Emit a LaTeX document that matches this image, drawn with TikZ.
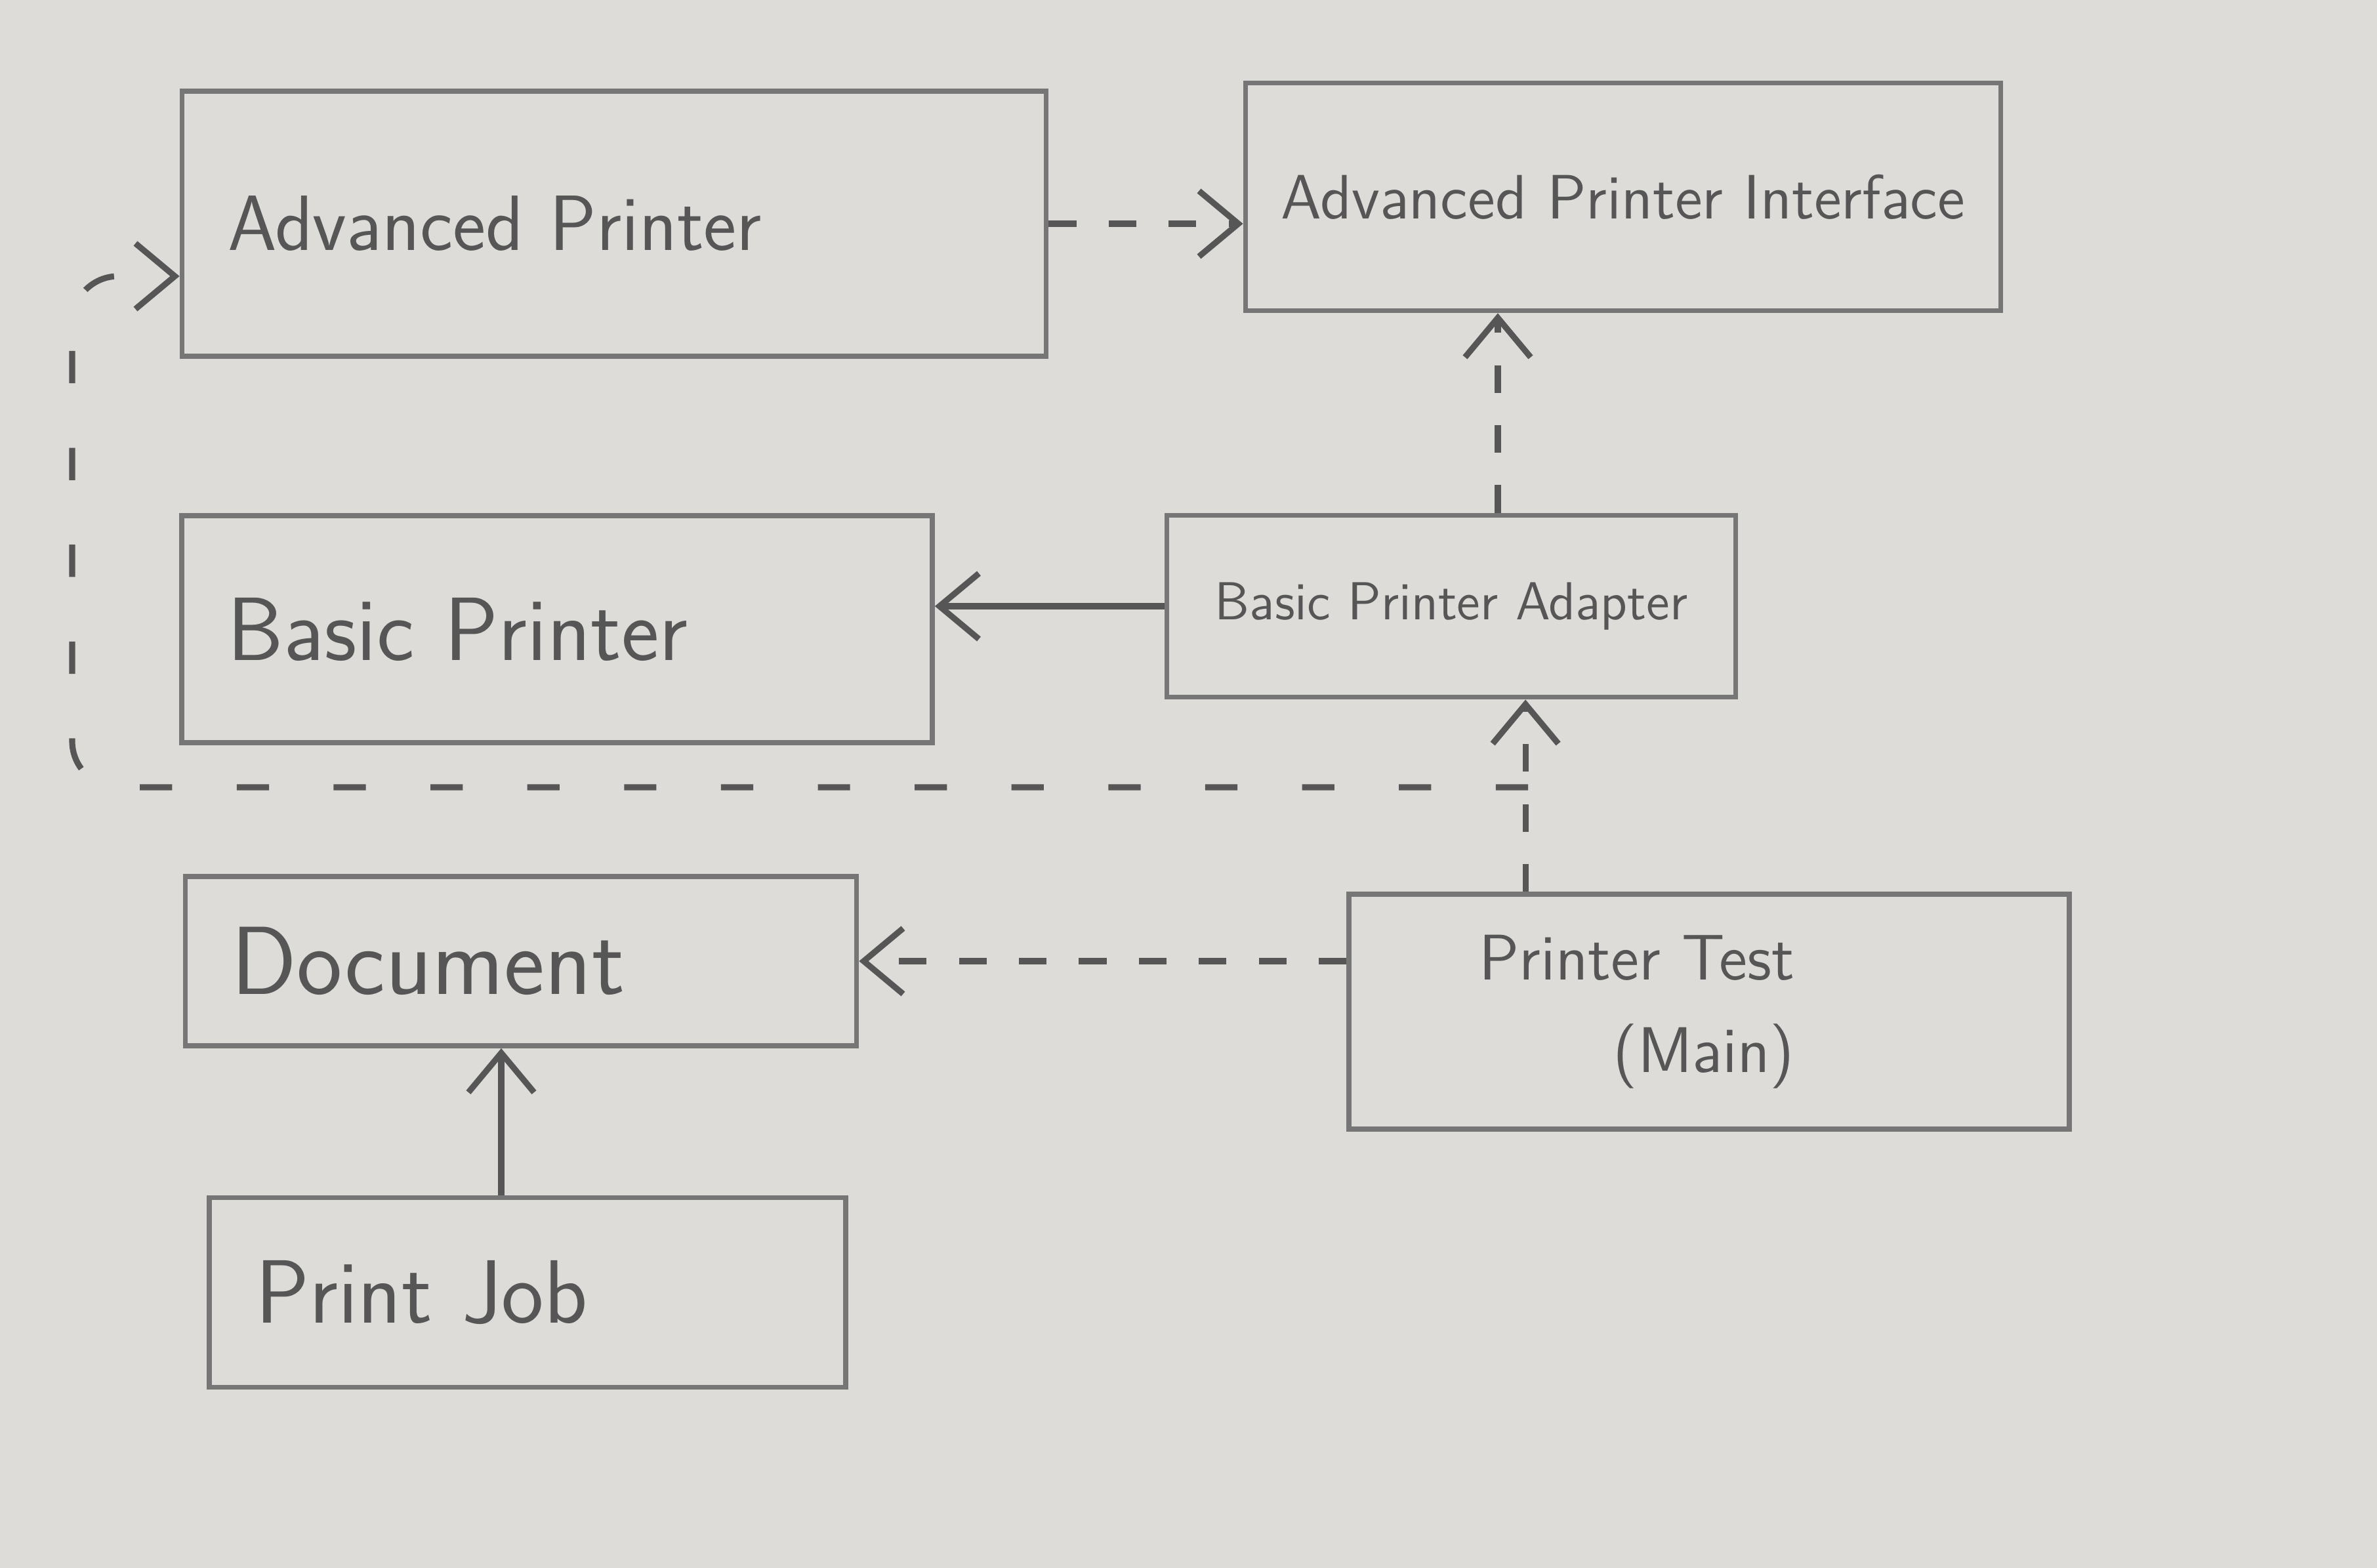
\documentclass[tikz,border=0pt]{standalone}
\usepackage{tikz}
\usepackage{xcolor}
\usetikzlibrary{positioning}
\usetikzlibrary{calc}
\usetikzlibrary{arrows.meta}
\definecolor{paper}{RGB}{222,220,216}
\definecolor{pencil}{RGB}{118,118,118}
\definecolor{lead}{RGB}{86,86,86}
\tikzset{classBox/.style={draw=pencil, line width=1.1pt, text=lead, inner xsep=0.35cm, inner ysep=0pt, font=\sffamily\fontsize{17}{20}\selectfont}}
\tikzset{classBoxSmall/.style={classBox, inner xsep=0.1cm, font=\sffamily\fontsize{12}{15}\selectfont}}
\tikzset{depLine/.style={draw=lead, line width=1.3pt, dash pattern=on 6pt off 7pt}}
\tikzset{useLine/.style={draw=lead, line width=1.3pt}}
\tikzset{>={Straight Barb[length=3mm, width=5mm]}}

\begin{document}
\begin{tikzpicture}

\fill[paper] (0, 0) rectangle (18.115, -11.95);

\node[classBox, minimum width=6.585cm, minimum height=2.02cm, text width=5.885cm, align=left] (aprinter) at (4.68, -1.705) {Advanced Printer};
\node[classBoxSmall, font=\sffamily\fontsize{13.6}{16}\selectfont, minimum width=5.755cm, minimum height=1.735cm] (apiface) at (12.37, -1.50) {Advanced Printer Interface};

\node[classBox, font=\sffamily\fontsize{19.5}{22}\selectfont, minimum width=5.72cm, minimum height=1.73cm, text width=5.02cm, align=left] (bprinter) at (4.245, -4.795) {Basic Printer};
\node[classBoxSmall, font=\sffamily\fontsize{11.6}{15}\selectfont, minimum width=4.335cm, minimum height=1.385cm] (adapter) at (11.06, -4.62) {Basic Printer Adapter};

\node[classBox, font=\sffamily\fontsize{21}{24}\selectfont, minimum width=5.115cm, minimum height=1.29cm, text width=4.415cm, align=left] (document) at (3.97, -7.325) {Document};
\node[classBox, font=\sffamily\fontsize{14}{20}\selectfont, minimum width=5.49cm, minimum height=1.79cm, align=right] (ptest) at (13.025, -7.71) {Printer Test\hspace*{1.1cm}\\(Main)\hspace*{1.1cm}};

\node[classBox, font=\sffamily\fontsize{19.5}{22}\selectfont, minimum width=4.85cm, minimum height=1.445cm, text width=4.15cm, align=left] (printjob) at (4.02, -9.85) {Print Job};

\coordinate (fork) at (11.645, -6.0);
\coordinate (corner) at (0.55, -6.0);

\draw[depLine, ->] (aprinter.east) to (aprinter.east -| apiface.west);
\draw[depLine, ->] ([xshift=0.355cm]adapter.north) to ([xshift=0.355cm]adapter.north |- apiface.south);
\draw[useLine, ->] (adapter.west) to (adapter.west -| bprinter.east);
\draw[depLine, ->] ([xshift=1.365cm]ptest.north west) to ([xshift=1.365cm]ptest.north west |- adapter.south);
\draw[depLine, dash pattern=on 7pt off 14pt, ->, rounded corners=10pt] (fork) -- (corner) |- ([yshift=-0.4cm]aprinter.west);
\draw[depLine, ->] (document.east -| ptest.west) to (document.east);
\draw[useLine, ->] ([xshift=-0.2cm]printjob.north) to ([xshift=-0.2cm]printjob.north |- document.south);

\end{tikzpicture}
\end{document}
